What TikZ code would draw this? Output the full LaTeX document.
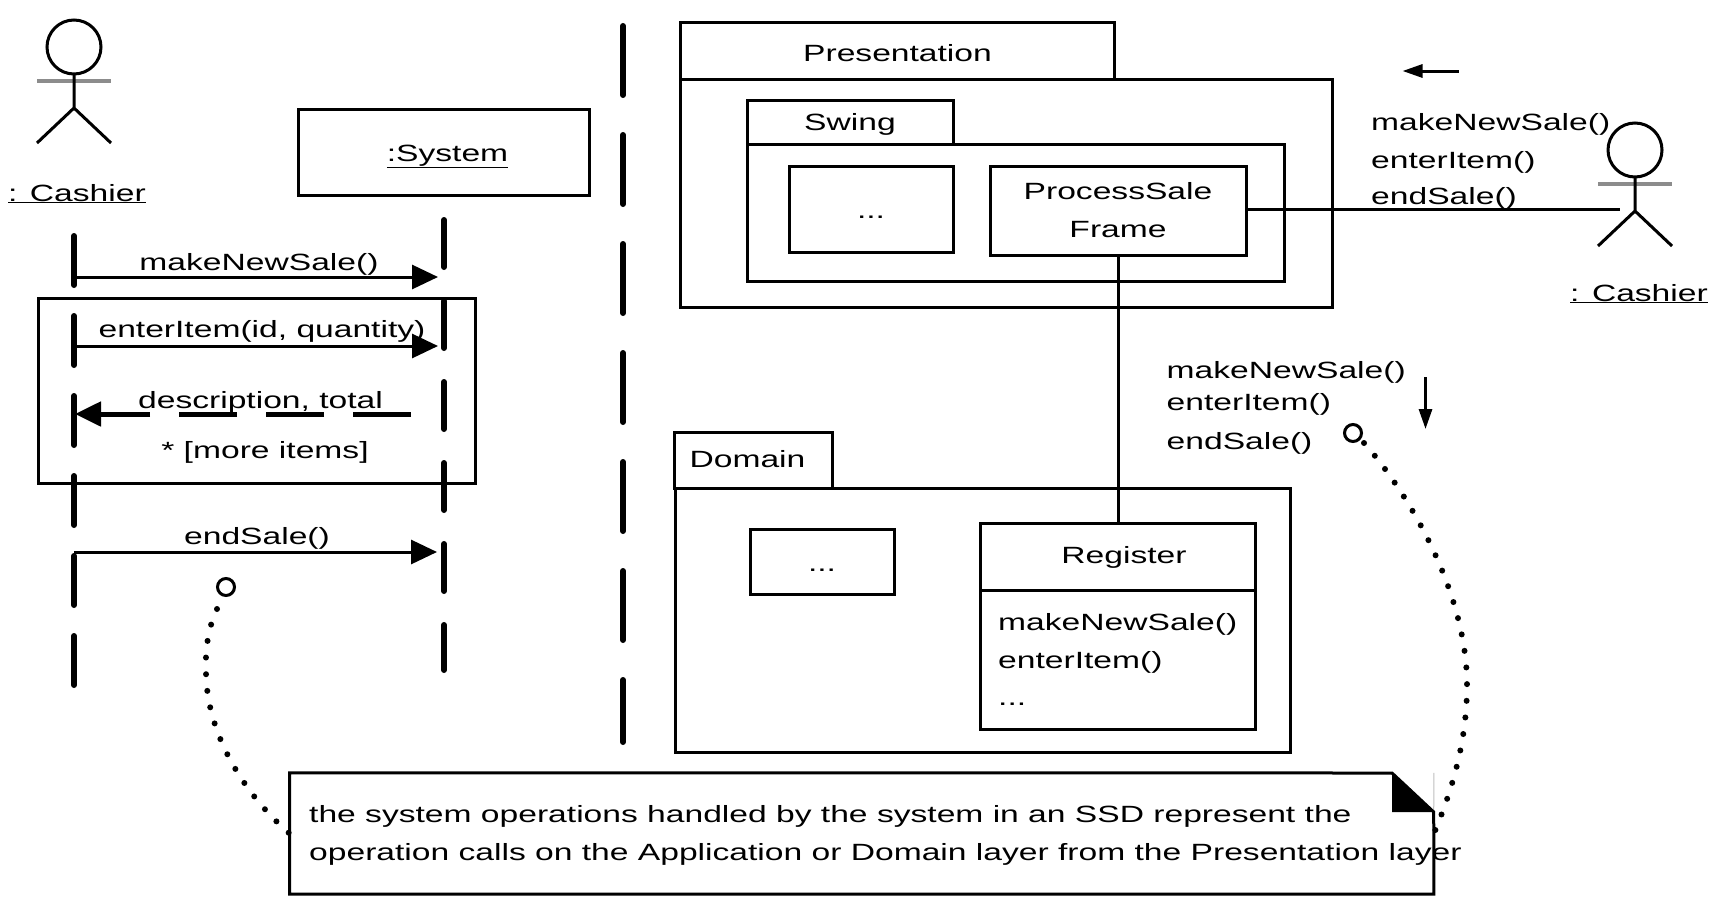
\documentclass[tikz,border=0pt]{standalone}
\usepackage{fontspec}
\setmainfont[FakeStretch=1.43]{Liberation Sans}
\usetikzlibrary{arrows.meta}
\tikzset{
  box/.style={draw,line width=3pt,inner sep=0pt,align=center},
  txt/.style={anchor=base west,inner sep=0pt},
  mid/.style={anchor=base,inner sep=0pt},
  lifeline/.style={line width=6pt,line cap=round},
  msg/.style={line width=3pt,-{Triangle[length=26pt,width=24pt]}},
  dotline/.style={line width=6pt,line cap=round,dash pattern=on 0pt off 16.7pt},
  ring/.style={draw,circle,line width=3pt,minimum size=17pt,inner sep=0pt},
  actor/.pic={
    \draw[line width=3pt] (0,-26) circle (27);
    \draw[line width=4pt,black!45] (-37,8) -- (37,8);
    \draw[line width=3pt] (0,2) -- (0,35) (-37,70) -- (0,35) -- (37,70);
  }
}
\begin{document}
\begin{tikzpicture}[x=1pt,y=-1pt,font=\fontsize{23.5}{38}\selectfont]
  \useasboundingbox (0,0) rectangle (1720,907);
  % left sequence diagram
  \path (74,73) pic {actor};
  \node[txt] (cashierA) at (8,201) {\underline{: Cashier}};
  \node[box,minimum width=291pt,minimum height=86pt] (system) at (443.5,152) {\hspace*{8pt}\raisebox{-9pt}[14pt][14pt]{\underline{:System}}};
  \coordinate (cashierTop) at (74,236);
  \coordinate (cashierEnd) at (74,685);
  \coordinate (systemTop) at (444,220);
  \coordinate (systemEnd) at (444,670);
  \coordinate (splitTop) at (623,26);
  \coordinate (splitEnd) at (623,742);
  \begin{scope}[lifeline]
    \draw[dash pattern=on 49pt off 31pt] (cashierTop) -- (cashierEnd);
    \draw[dash pattern=on 47pt off 34pt] (systemTop) -- (systemEnd);
    \draw[dash pattern=on 69pt off 40pt] (splitTop) -- (splitEnd);
  \end{scope}
  \node[box,minimum width=437pt,minimum height=185pt] (loop) at (256.5,390.5) {};
  \coordinate (m1a) at (74,277);
  \coordinate (m1b) at (438,277);
  \coordinate (m2a) at (74,346);
  \coordinate (m2b) at (438,346);
  \coordinate (m3a) at (411,414);
  \coordinate (m3b) at (75,414);
  \coordinate (m4a) at (74,552);
  \coordinate (m4b) at (437,552);
  \draw[msg] (m1a) -- (m1b);
  \draw[msg] (m2a) -- (m2b);
  \draw[msg] (m4a) -- (m4b);
  \draw[line width=5pt,dash pattern=on 58pt off 29pt,-{Triangle[length=26pt,width=24pt]}] (m3a) -- (m3b);
  \node[mid] (m1) at (259,270) {makeNewSale()};
  \node[mid] (m2) at (262,337) {enterItem(id, quantity)};
  \node[mid] (m3) at (260.5,408) {description, total};
  \node[mid] (more) at (265,458) {* [more items]};
  \node[mid] (m4) at (257,544) {endSale()};
  % layers
  \node[box,minimum width=434pt,minimum height=56pt] (presTab) at (897.5,51) {\raisebox{-11pt}[14pt][14pt]{Presentation}};
  \node[box,minimum width=652pt,minimum height=228pt] (pres) at (1006,193) {};
  \node[box,minimum width=206pt,minimum height=44pt] (swingTab) at (850,122) {\raisebox{-8pt}[14pt][14pt]{Swing}};
  \node[box,minimum width=537pt,minimum height=137pt] (swing) at (1015.5,212.5) {};
  \node[box,minimum width=164pt,minimum height=86pt] (swingDots) at (871,209) {\raisebox{-18pt}{...}};
  \node[box,minimum width=256pt,minimum height=89pt] (frame) at (1118,210.5) {ProcessSale\\Frame};
  \node[box,minimum width=158pt,minimum height=56pt] (domTab) at (753.5,460) {\hspace*{-12pt}\raisebox{2pt}{Domain}};
  \node[box,minimum width=615pt,minimum height=264pt] (dom) at (982.5,620) {};
  \node[box,minimum width=144pt,minimum height=65pt] (domDots) at (822,561.5) {\raisebox{-20pt}{...}};
  \node[box,minimum width=275pt,minimum height=67pt] (register) at (1118,556.5) {\hspace*{12pt}\raisebox{-7pt}[14pt][14pt]{Register}};
  \node[box,minimum width=275pt,minimum height=139pt] (regOps) at (1118,659.5) {};
  \node[txt] (op1) at (998,630) {makeNewSale()};
  \node[txt] (op2) at (998,668) {enterItem()};
  \node[txt] (op3) at (998,705) {...};
  % right actor and calls
  \path (1635,176) pic {actor};
  \node[txt] (cashierB) at (1570,301) {\underline{: Cashier}};
  \coordinate (actorHand) at (1620,209);
  \draw[line width=3pt] (frame.east |- actorHand) -- (actorHand);
  \draw[line width=3pt] (frame.south) -- (register.north);
  \node[txt] (c1) at (1371,130) {makeNewSale()};
  \node[txt] (c2) at (1371,168) {enterItem()};
  \node[txt] (c3) at (1371,204) {endSale()};
  \node[txt] (d1) at (1166.5,378) {makeNewSale()};
  \node[txt] (d2) at (1166.5,410) {enterItem()};
  \node[txt] (d3) at (1166.5,449) {endSale()};
  \coordinate (leftA) at (1458.5,71);
  \coordinate (leftB) at (1402.5,71);
  \coordinate (downA) at (1425.5,377);
  \coordinate (downB) at (1425.5,429);
  \begin{scope}[line width=3pt,-{Triangle[length=20pt,width=13pt]}]
    \draw (leftA) -- (leftB);
    \draw (downA) -- (downB);
  \end{scope}
  % note
  \node[minimum width=1144pt,minimum height=121pt,inner sep=0pt] (note) at (861.7,833.5) {};
  \coordinate (foldA) at (1392,773);
  \coordinate (foldB) at (1392,812);
  \coordinate (foldC) at (1433.7,812);
  \draw[line width=1pt,black!25] (note.north east) -- (foldC);
  \draw[line width=3pt] (note.north west) -- (foldA) -- (foldC) -- (note.south east) -- (note.south west) -- cycle;
  \fill (foldA) -- (foldB) -- (foldC) -- cycle;
  \node[txt] (noteA) at (309,822) {the system operations handled by the system in an SSD represent the};
  \node[txt] (noteB) at (309,860) {operation calls on the Application or Domain layer from the Presentation layer};
  \node[ring] (ringA) at (226,587) {};
  \node[ring] (ringB) at (1353,433) {};
  \coordinate (dotA) at (217,609);
  \coordinate (dotB) at (1364,443);
  \draw[dotline] (dotA) .. controls (208,628) and (205,650) .. (206,673)
    .. controls (207,735) and (245,795) .. (note.west);
  \draw[dotline] (dotB) .. controls (1406,490) and (1467,590) .. (1467,685)
    .. controls (1467,745) and (1450,795) .. (note.east);
\end{tikzpicture}
\end{document}
